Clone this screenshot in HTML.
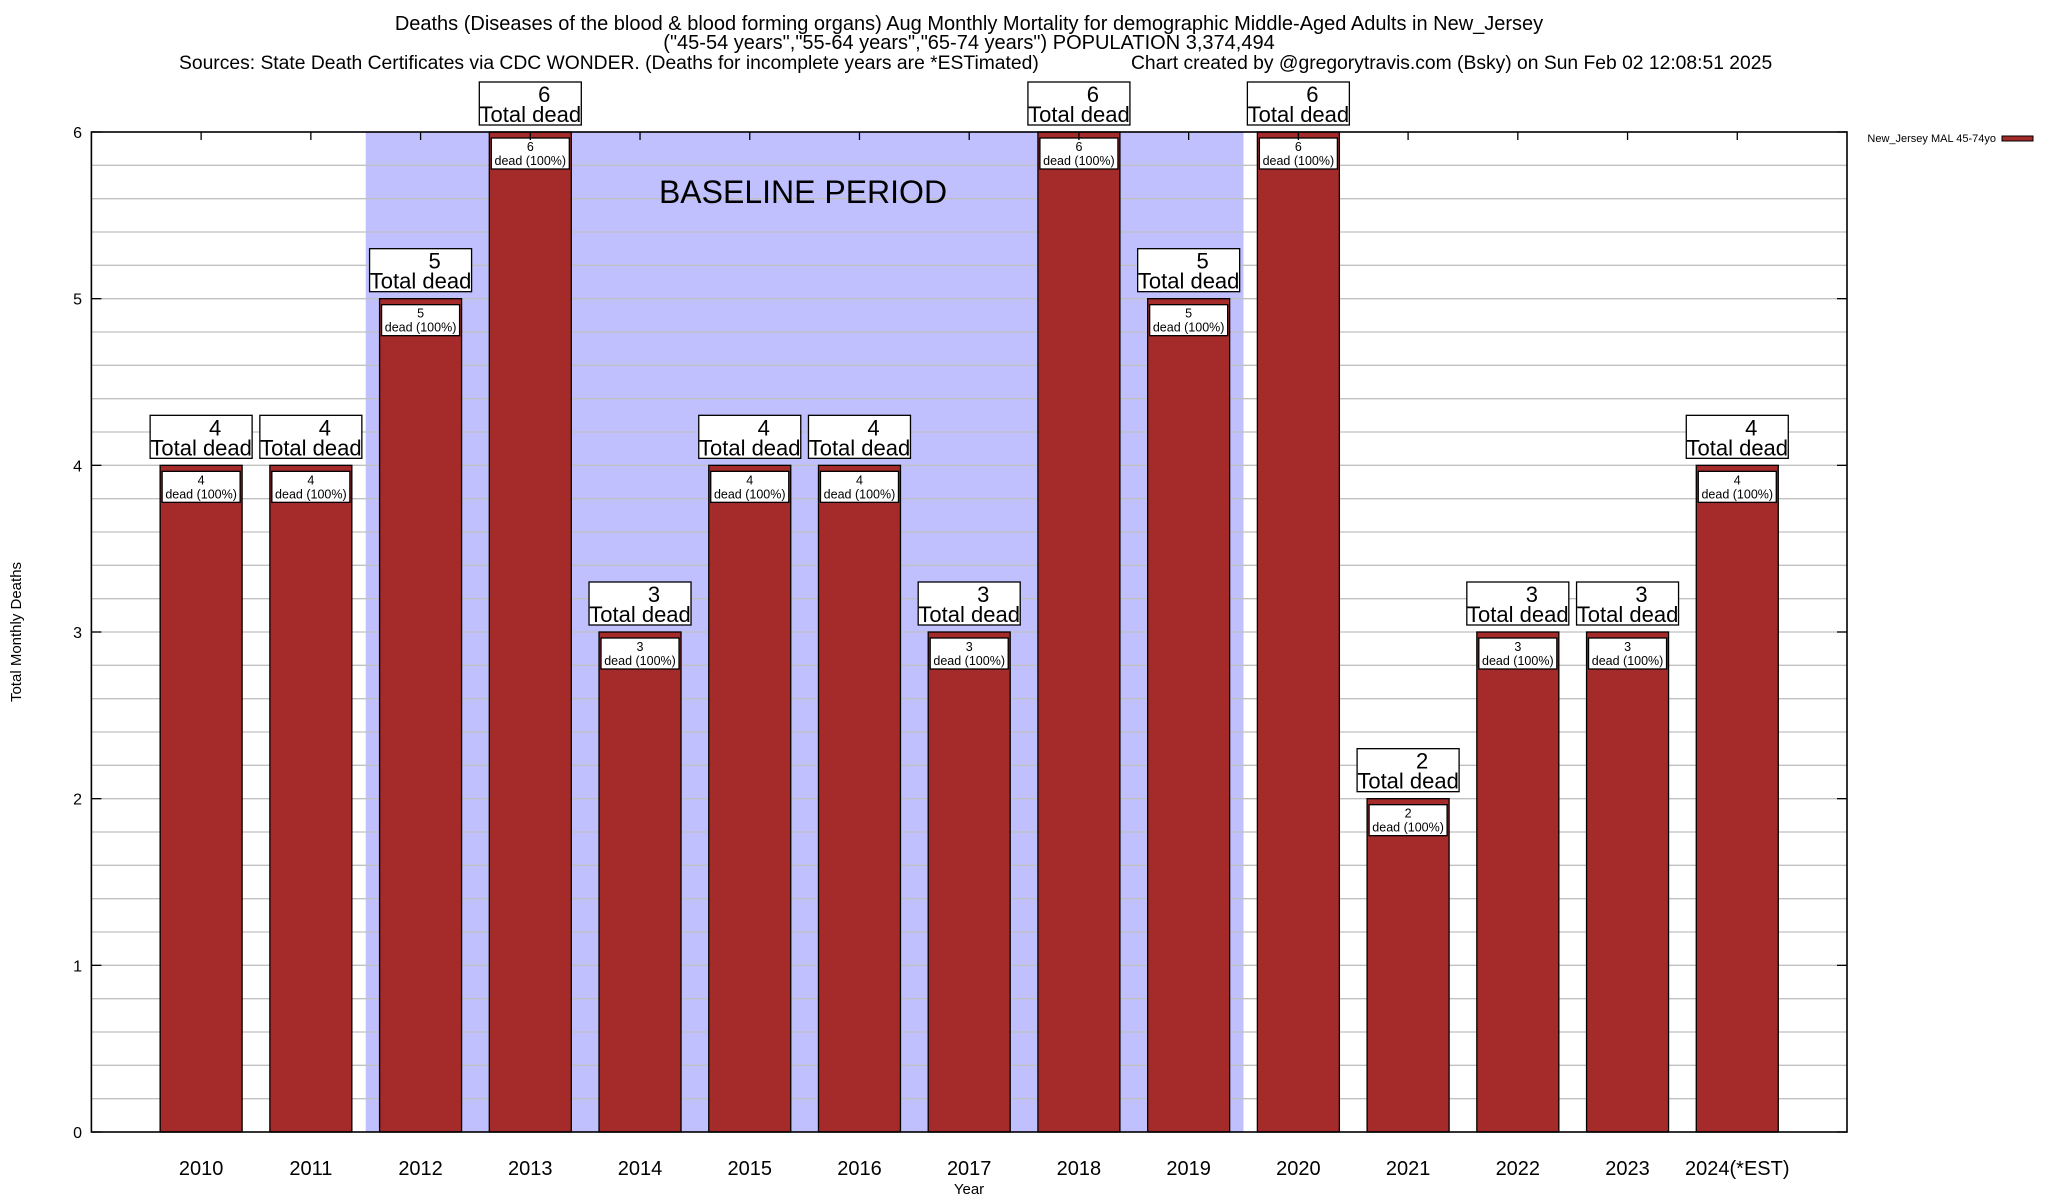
<!DOCTYPE html>
<html><head><meta charset="utf-8"><style>
body{margin:0;background:#fff}
svg{display:block;font-family:"Liberation Sans",Arial,sans-serif}
</style></head><body>
<svg id="chart" width="2048" height="1200" xmlns="http://www.w3.org/2000/svg">
<g text-anchor="middle" fill="#000">
<text x="969" y="30" font-size="20">Deaths (Diseases of the blood &amp; blood forming organs) Aug Monthly Mortality for demographic Middle-Aged Adults in New_Jersey</text>
<text x="969" y="49" font-size="20">("45-54 years","55-64 years","65-74 years") POPULATION 3,374,494</text>
<text x="179" y="69" font-size="19.3" text-anchor="start">Sources: State Death Certificates via CDC WONDER. (Deaths for incomplete years are *ESTimated)</text>
<text x="1131" y="69" font-size="19.3" text-anchor="start">Chart created by @gregorytravis.com (Bsky) on Sun Feb 02 12:08:51 2025</text>
</g>
<g id="plot"></g>
</svg>
<script>
const years=["2010","2011","2012","2013","2014","2015","2016","2017","2018","2019","2020","2021","2022","2023","2024(*EST)"];
const deaths=[4,4,5,6,3,4,4,3,6,5,6,2,3,3,4];
const yTicks=[0,1,2,3,4,5,6];
const baselineStart=2, baselineEnd=9;
const L=91.4,R=1847,T=132,B=1132,yMax=6;
const pitch=(R-L)/(years.length+1);
const xs=i=>L+(i+1)*pitch;
const ys=v=>B-(v/yMax)*(B-T);
const NS="http://www.w3.org/2000/svg";
const g=document.getElementById('plot');
function mk(tag,attrs,parent,text){const e=document.createElementNS(NS,tag);for(const k in attrs)e.setAttribute(k,attrs[k]);if(text!==undefined)e.textContent=text;(parent||g).appendChild(e);return e;}
let sh=mk('rect',{x:xs(baselineStart)-pitch/2,y:T,width:(baselineEnd-baselineStart+1)*pitch,height:B-T,fill:'#c0c0ff'});


for(let v=0.2;v<yMax-0.01;v+=0.2){
 let ln=mk('line',{x1:L,x2:R,y1:ys(v),y2:ys(v),stroke:'#c0c0c0','stroke-width':1.3});
 
 
}
let bt=mk('text',{x:803,y:203,'font-size':32,'text-anchor':'middle'},g,'BASELINE PERIOD');


yTicks.forEach(v=>{
 let t=mk('text',{x:82,y:ys(v)+6,'font-size':16,'text-anchor':'end'},g,String(v));
 
 
 mk('line',{x1:L,x2:L+10,y1:ys(v),y2:ys(v),stroke:'#000','stroke-width':1.3});
 mk('line',{x1:R-10,x2:R,y1:ys(v),y2:ys(v),stroke:'#000','stroke-width':1.3});
});
years.forEach((yr,i)=>{
 const v=deaths[i],cx=xs(i),w=82,top=ys(v);
 let b=mk('rect',{x:cx-w/2,y:top,width:w,height:B-top,fill:'#a52a2a',stroke:'#000','stroke-width':1.3});
 
 
 let ib=mk('rect',{x:cx-w/2+2,y:top+6,width:w-4,height:31,fill:'#fff',stroke:'#000','stroke-width':1.3});
 
 
 mk('text',{x:cx,y:top+19,'font-size':12.5,'text-anchor':'middle'},g,String(v));
 mk('text',{x:cx,y:top+33,'font-size':12.5,'text-anchor':'middle'},g,'dead (100%)');
 let ob=mk('rect',{x:cx-51,y:top-50,width:102,height:43,fill:'#fff',stroke:'#000','stroke-width':1.3});
 
 
 mk('text',{x:cx+14,y:top-30,'font-size':22,'text-anchor':'middle'},g,String(v));
 mk('text',{x:cx,y:top-10,'font-size':22,'text-anchor':'middle'},g,'Total dead');
 let xl=mk('text',{x:cx,y:1175,'font-size':20,'text-anchor':'middle'},g,yr);
 
 
 mk('line',{x1:cx,x2:cx,y1:T,y2:T+8,stroke:'#000','stroke-width':1.3});
});
let fr=mk('rect',{x:L,y:T,width:R-L,height:B-T,fill:'none',stroke:'#000','stroke-width':1.6});


let xt=mk('text',{x:969,y:1194,'font-size':15,'text-anchor':'middle'},g,'Year');


let yt=mk('text',{x:0,y:0,'font-size':15,'text-anchor':'middle',transform:'translate(21,632) rotate(-90)'},g,'Total Monthly Deaths');


let lt=mk('text',{x:1996,y:142,'font-size':11,'text-anchor':'end'},g,'New_Jersey MAL 45-74yo');


let ls=mk('rect',{x:2002,y:136,width:31,height:5,fill:'#a52a2a',stroke:'#000','stroke-width':1});


</script>
</body></html>
